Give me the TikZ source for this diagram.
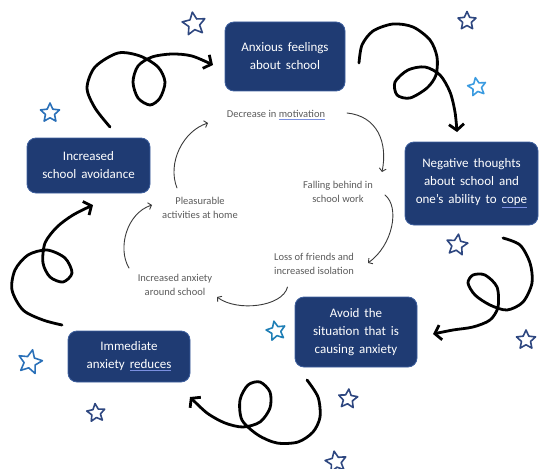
\documentclass[tikz,border=0pt]{standalone}
\usepackage{fontspec}
\setmainfont{Carlito}
\usetikzlibrary{arrows.meta,shapes.geometric}
\definecolor{boxnavy}{HTML}{1F3B73}
\definecolor{boxedge}{HTML}{3D5F9E}
\definecolor{labelgray}{HTML}{5A5A5A}
\definecolor{arrowgray}{HTML}{3A3A3A}
\definecolor{linkblue}{HTML}{7A8FE0}
\definecolor{starnavy}{HTML}{2E4780}
\definecolor{starblue}{HTML}{2A70B8}
\definecolor{starsky}{HTML}{3B9BE0}
\definecolor{starteal}{HTML}{1F7FB6}
\newcommand{\spellmark}[2]{\textcolor{linkblue}{\underline{\textcolor{#1}{#2}}}}
\newcommand{\boxfont}{\fontsize{13}{18}\selectfont\spaceskip=0.38em plus 0.1em minus 0.05em\relax}

\begin{document}
\begin{tikzpicture}[
  x=1pt,
  y=-1pt,
  line cap=round,
  line join=round,
  cyclebox/.style={draw=boxedge,line width=0.8pt,fill=boxnavy,rounded corners=9pt,
    text=white,align=center,font=\boxfont,inner sep=2pt},
  steplabel/.style={text=labelgray,align=center,font=\fontsize{10.5}{14}\selectfont,inner sep=1pt},
  swirl/.style={draw=black,line width=2.8pt,-{Straight Barb[length=6pt,width=15pt]}},
  flow/.style={draw=arrowgray,line width=0.9pt,-{Straight Barb[length=3pt,width=7pt]}},
  starmark/.style={draw=#1,line width=1.6pt,star,star points=5,star point ratio=2.1,inner sep=0pt}
]
  % Keep the frame of the original artwork.
  \useasboundingbox (0,0) rectangle (540,468);

  % Outer cycle: the five dark boxes.
  \node[cyclebox,minimum width=120pt,minimum height=69pt] (anxious) at (285,56.5)
    {Anxious feelings\\about school};
  \node[cyclebox,minimum width=133pt,minimum height=83pt] (negthought) at (471.5,183.5)
    {Negative thoughts\\about school and\\one's ability to \spellmark{white}{cope}};
  \node[cyclebox,minimum width=122pt,minimum height=70pt] (avoidsit) at (356,332)
    {Avoid the\\situation that is\\causing anxiety};
  \node[cyclebox,minimum width=122pt,minimum height=51pt] (reduces) at (129,356.5)
    {Immediate\\anxiety \spellmark{white}{reduces}};
  \node[cyclebox,minimum width=123pt,minimum height=55pt] (avoidance) at (88.5,165.5)
    {Increased\\school avoidance};

  % Inner cycle: grey consequences.
  \node[steplabel] (motiv) at (276,115) {Decrease in \spellmark{labelgray}{motivation}};
  \node[steplabel] (behind) at (338,191.5) {Falling behind in\\school work};
  \node[steplabel] (friends) at (314,263.5) {Loss of friends and\\increased isolation};
  \node[steplabel] (anxschool) at (175,285) {Increased anxiety\\around school};
  \node[steplabel] (pleasure) at (200,207.5) {Pleasurable\\activities at home};

  % Thin arrows of the inner cycle.
  \draw[flow] ([shift={(71,-2)}]motiv.center) .. controls +(30,3) and +(6,-30) .. ([shift={(44,-19.5)}]behind.center);
  \draw[flow] ([shift={(47,3.5)}]behind.center) .. controls +(15,12) and +(25,-18) .. ([shift={(54,-0.5)}]friends.center);
  \draw[flow] ([shift={(-26.5,23.5)}]friends.center) .. controls +(-5,20) and +(20,15) .. ([shift={(42,12)}]anxschool.center);
  \draw[flow] ([shift={(-46,-17)}]anxschool.center) .. controls +(-12,-20) and +(-25,8) .. ([shift={(-48,-2.5)}]pleasure.center);
  \draw[flow] ([shift={(-23,-19.5)}]pleasure.center) .. controls +(-10,-25) and +(-25,8) .. ([shift={(-68,8)}]motiv.center);

  % Looping black arrows of the outer cycle.
  \draw[swirl] plot[smooth] coordinates {([shift={(21.5,-38.5)}]avoidance.center)
    (95,108) (87,88) (95,67) (118,53) (140,56) (158,67) (165,82) (160,98) (150,105)
    (138,98) (133,82) (138,66) (152,57) (172,54) (192,56) ([shift={(-72,8.5)}]anxious.center)};
  \draw[swirl] plot[smooth] coordinates {([shift={(74,6.5)}]anxious.center)
    (362,45) (373,31) (393,24) (413,27) (430,40) (437,57) (436,75) (427,88) (410,98)
    (397,95) (395,82) (408,70) (425,67) (440,75) (450,92) (455,112) ([shift={(-14.5,-51.5)}]negthought.center)};
  \draw[swirl] plot[smooth] coordinates {([shift={(31.5,54.5)}]negthought.center)
    (520,245) (530,263) (532,283) (523,302) (507,310) (490,305) (475,295) (468,283)
    (473,275) (485,275) (497,287) (498,307) (490,320) (473,327) (453,330) ([shift={(77,2)}]avoidsit.center)};
  \draw[swirl] plot[smooth] coordinates {([shift={(-49,48)}]avoidsit.center)
    (318,397) (320,417) (313,432) (298,442) (277,443) (258,435) (242,420) (240,400)
    (248,385) (260,382) (270,392) (270,408) (260,422) (243,427) (225,423) (207,413) ([shift={(61,40.5)}]reduces.center)};
  \draw[swirl] plot[smooth] coordinates {([shift={(-67,-31.5)}]reduces.center)
    (43,320) (23,310) (12,290) (15,270) (28,255) (47,250) (65,258) (72,273) (63,282)
    (50,277) (43,263) (45,243) (57,227) (73,215) ([shift={(4.5,39.5)}]avoidance.center)};

  % Outlined stars scattered round the cycle.
  \foreach \sx/\sy/\ssize/\scol/\srot in {194/24/24/starnavy/8, 467/21/19/starnavy/0,
      50/113/20/starblue/0, 477/87/19/starsky/10, 457/245/22/starnavy/-8,
      276/331/20/starteal/12, 526/340/20/starnavy/0, 30/362/25/starblue/-12,
      96/413/19/starnavy/6, 348/399/20/starnavy/-5, 336/462/22/starnavy/10}
    \node[starmark=\scol,minimum size=\ssize pt,rotate=\srot] (star\sx) at (\sx,\sy) {};
\end{tikzpicture}
\end{document}
